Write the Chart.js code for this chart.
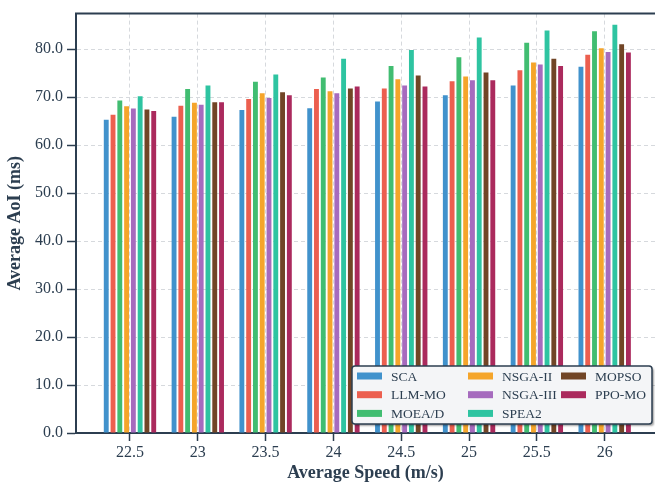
<!DOCTYPE html>
<html>
<head>
<meta charset="utf-8">
<script src="https://cdn.jsdelivr.net/npm/chart.js@4.4.1/dist/chart.umd.min.js"></script>
<style>
  html, body { margin: 0; padding: 0; background: #fff; overflow: hidden; }
  #wrap { width: 655px; height: 486px; }
</style>
</head>
<body>
<div id="wrap"><canvas id="chart" width="655" height="486"></canvas></div>
<script>
const speeds = [22.5, 23, 23.5, 24, 24.5, 25, 25.5, 26];
const yTicks = [0, 10, 20, 30, 40, 50, 60, 70, 80];

const SCA      = [65.3, 65.9, 67.3, 67.7, 69.1, 70.4, 72.4, 76.3];
const LLM_MO   = [66.3, 68.2, 69.6, 71.7, 71.8, 73.3, 75.6, 78.8];
const MOEA_D   = [69.3, 71.7, 73.2, 74.1, 76.5, 78.3, 81.3, 83.7];
const NSGA_II  = [68.1, 68.8, 70.8, 71.2, 73.7, 74.3, 77.2, 80.2];
const NSGA_III = [67.6, 68.4, 69.8, 70.8, 72.4, 73.5, 76.8, 79.4];
const SPEA2    = [70.2, 72.4, 74.7, 78.0, 79.8, 82.4, 83.9, 85.1];
const MOPSO    = [67.4, 68.9, 71.0, 71.8, 74.5, 75.1, 78.0, 81.0];
const PPO_MO   = [67.1, 68.9, 70.4, 72.2, 72.2, 73.5, 76.5, 79.3];

const series = [
    { label: "SCA", data: SCA, color: "#4192cc" },
    { label: "LLM-MO", data: LLM_MO, color: "#ec5f4f" },
    { label: "MOEA/D", data: MOEA_D, color: "#41bd71" },
    { label: "NSGA-II", data: NSGA_II, color: "#f5a52a" },
    { label: "NSGA-III", data: NSGA_III, color: "#a66bbe" },
    { label: "SPEA2", data: SPEA2, color: "#2ec4a1" },
    { label: "MOPSO", data: MOPSO, color: "#714526" },
    { label: "PPO-MO", data: PPO_MO, color: "#ab2a5d" }
];

const dark = "#2c3e50";
const font = "'Liberation Serif', 'Times New Roman', serif";

// top spine
const topSpine = {
    id: "topSpine",
    afterDraw(chart) {
        const { ctx, chartArea } = chart;
        ctx.save();
        ctx.strokeStyle = dark;
        ctx.lineWidth = 2;
        ctx.beginPath();
        ctx.moveTo(chartArea.left - 1, chartArea.top);
        ctx.lineTo(chartArea.right, chartArea.top);
        ctx.stroke();
        ctx.restore();
    }
};

// legend in a box, three columns, column-major
const boxLegend = {
    id: "boxLegend",
    afterDraw(chart) {
        const { ctx, chartArea } = chart;
        const w = 300, h = 58;
        const x0 = chartArea.right - w - 3, y0 = chartArea.bottom - h - 9;
        ctx.save();
        ctx.shadowColor = "rgba(0,0,0,0.35)";
        ctx.shadowOffsetX = 2;
        ctx.shadowOffsetY = 2;
        ctx.shadowBlur = 2;
        ctx.fillStyle = "#f4f5f7";
        ctx.beginPath();
        ctx.roundRect(x0, y0, w, h, 3);
        ctx.fill();
        ctx.shadowColor = "transparent";
        ctx.strokeStyle = dark;
        ctx.lineWidth = 1.5;
        ctx.stroke();

        const colX = [5, 116, 209];
        ctx.font = "13.5px " + font;
        ctx.textBaseline = "middle";
        chart.data.datasets.forEach((ds, i) => {
            const col = Math.floor(i / 3), row = i % 3;
            const sx = x0 + colX[col];
            const sy = y0 + 10 + row * 18.7;
            ctx.fillStyle = ds.backgroundColor;
            ctx.fillRect(sx, sy - 3.5, 25, 7);
            ctx.fillStyle = dark;
            ctx.fillText(ds.label, sx + 34, sy + 1);
        });
        ctx.restore();
    }
};

new Chart(document.getElementById("chart"), {
    type: "bar",
    data: {
        datasets: series.map(s => ({
            label: s.label,
            data: s.data.map((v, i) => ({ x: speeds[i], y: v })),
            backgroundColor: s.color,
            borderWidth: 0,
            categoryPercentage: 0.8,
            barPercentage: 0.72
        }))
    },
    options: {
        responsive: false,
        animation: false,
        layout: { padding: { top: 8, right: 0, left: 0, bottom: 0 } },
        plugins: {
            legend: { display: false },
            tooltip: { enabled: false }
        },
        scales: {
            x: {
                type: "linear",
                offset: false,
                min: 22.102,
                max: 26.371,
                afterBuildTicks: scale => { scale.ticks = speeds.map(v => ({ value: v })); },
                afterFit: scale => { scale.height = 53; },
                ticks: {
                    color: dark,
                    font: { family: font, size: 16 },
                    padding: 2,
                    maxRotation: 0,
                    callback: v => String(v)
                },
                grid: {
                    offset: false,
                    color: "#d6d9dd",
                    lineWidth: 1,
                    tickColor: dark,
                    tickLength: 8,
                    tickWidth: 1.5
                },
                border: { color: dark, width: 2, dash: [4, 3] },
                title: {
                    display: true,
                    text: "Average Speed (m/s)",
                    color: dark,
                    font: { family: font, size: 18, weight: "bold" },
                    padding: { top: 0, bottom: 2 }
                }
            },
            y: {
                min: 0,
                max: 87.4,
                afterBuildTicks: scale => { scale.ticks = yTicks.map(v => ({ value: v })); },
                afterFit: scale => { scale.width = 76; },
                ticks: {
                    color: dark,
                    font: { family: font, size: 16 },
                    padding: 4,
                    callback: v => v.toFixed(1)
                },
                grid: {
                    color: "#d6d9dd",
                    lineWidth: 1,
                    tickColor: dark,
                    tickLength: 9,
                    tickWidth: 1.5
                },
                border: { color: dark, width: 2, dash: [4, 3] },
                title: {
                    display: true,
                    text: "Average AoI (ms)",
                    color: dark,
                    font: { family: font, size: 18, weight: "bold" },
                    padding: { top: 5, bottom: 2 }
                }
            }
        }
    },
    plugins: [topSpine, boxLegend]
});
</script>
</body>
</html>
